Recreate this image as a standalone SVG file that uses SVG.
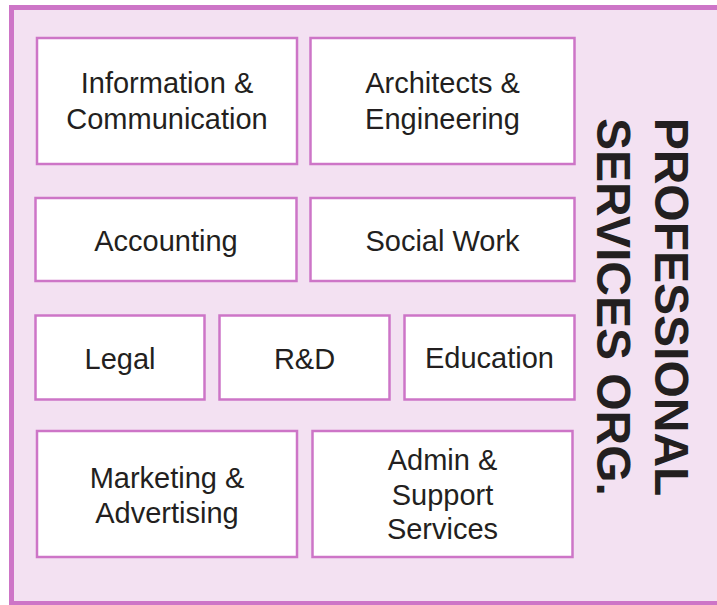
<svg xmlns="http://www.w3.org/2000/svg" width="717" height="605" viewBox="0 0 717 605">
<style>
.box{fill:#ffffff;stroke:#CD75C7;stroke-width:2.5}
.lbl{font-family:"Liberation Sans",Arial,sans-serif;font-size:29px;fill:#231F20;text-anchor:middle}
.title{font-family:"Liberation Sans",Arial,sans-serif;font-size:48px;font-weight:bold;fill:#231F20;text-anchor:middle}
</style>
<rect id="frame" x="11.5" y="7.5" width="720" height="596" fill="#F3E1F2" stroke="#CD75C7" stroke-width="5"/>
<g id="title" transform="translate(655,307) rotate(90)">
<text class="title" x="0" y="0">PROFESSIONAL</text>
<text class="title" x="0" y="58">SERVICES ORG.</text>
</g>
<g id="info"><rect class="box" x="37" y="38" width="260" height="126"/><text class="lbl" x="167" y="93">Information &amp;</text><text class="lbl" x="167" y="129">Communication</text></g>
<g id="arch"><rect class="box" x="310.5" y="38" width="264" height="126"/><text class="lbl" x="442.5" y="93">Architects &amp;</text><text class="lbl" x="442.5" y="129">Engineering</text></g>
<g id="acct"><rect class="box" x="35.5" y="198" width="261" height="83"/><text class="lbl" x="166" y="251">Accounting</text></g>
<g id="social"><rect class="box" x="310.5" y="198" width="264" height="83"/><text class="lbl" x="442.5" y="251">Social Work</text></g>
<g id="legal"><rect class="box" x="35.5" y="315.5" width="169" height="84"/><text class="lbl" x="120" y="369">Legal</text></g>
<g id="rd"><rect class="box" x="219.5" y="315.5" width="170" height="84"/><text class="lbl" x="304.5" y="369">R&amp;D</text></g>
<g id="edu"><rect class="box" x="404.5" y="315.5" width="170" height="84"/><text class="lbl" x="489.5" y="368">Education</text></g>
<g id="mkt"><rect class="box" x="37" y="431" width="260" height="126"/><text class="lbl" x="167" y="488">Marketing &amp;</text><text class="lbl" x="167" y="523">Advertising</text></g>
<g id="admin"><rect class="box" x="312.5" y="431" width="260" height="126"/><text class="lbl" x="442.5" y="470">Admin &amp;</text><text class="lbl" x="442.5" y="505">Support</text><text class="lbl" x="442.5" y="539">Services</text></g>
<g id="connectors"></g>
</svg>
